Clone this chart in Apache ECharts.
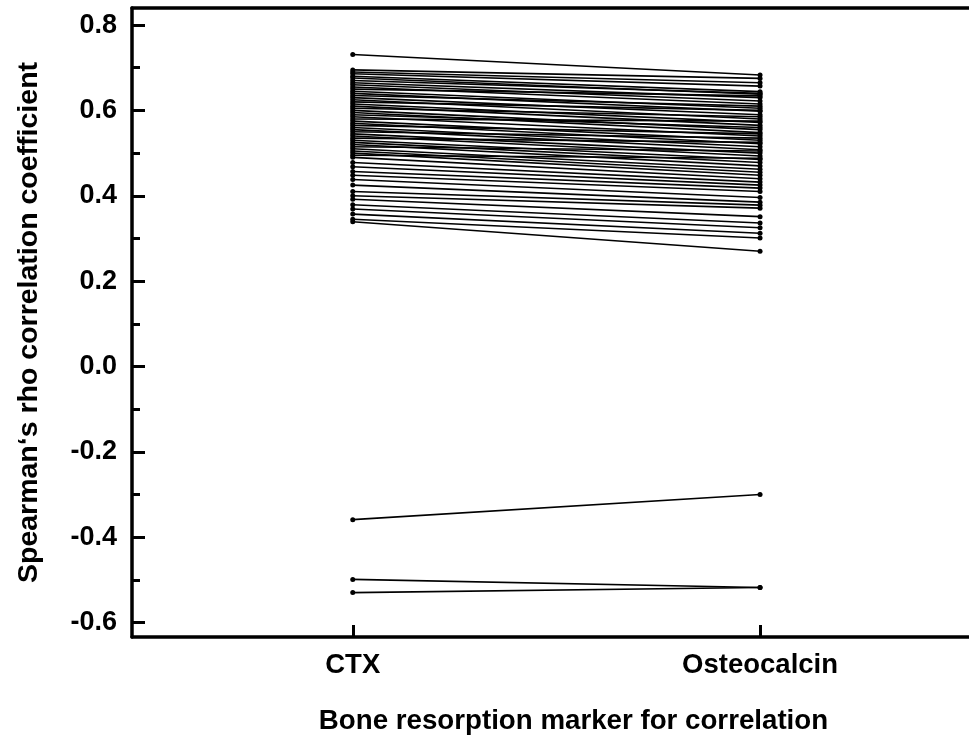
<!DOCTYPE html>
<html>
<head>
<meta charset="utf-8">
<script src="https://cdn.jsdelivr.net/npm/echarts@6/dist/echarts.min.js"></script>
<style>html,body{margin:0;padding:0;background:#fff;overflow:hidden}#c{width:969px;height:740px}</style>
</head>
<body>
<div id="c"></div>
<script>
var categories = ["CTX", "Osteocalcin"];
var ctxValues = [0.731,0.695,0.690,0.686,0.680,0.676,0.670,0.665,0.660,0.655,0.650,0.645,0.640,0.635,0.630,0.625,0.620,0.615,0.610,0.605,0.600,0.595,0.590,0.585,0.580,0.575,0.570,0.565,0.560,0.555,0.550,0.545,0.540,0.535,0.530,0.525,0.520,0.515,0.510,0.505,0.500,0.495,0.490,0.478,0.468,0.457,0.448,0.438,0.425,0.410,0.400,0.392,0.379,0.369,0.357,0.345,0.339,-0.359,-0.499,-0.530];
var osteoValues = [0.683,0.675,0.665,0.657,0.644,0.638,0.640,0.630,0.622,0.615,0.634,0.605,0.598,0.610,0.590,0.580,0.600,0.572,0.565,0.585,0.555,0.548,0.560,0.540,0.575,0.530,0.522,0.545,0.515,0.508,0.535,0.500,0.493,0.525,0.485,0.478,0.470,0.505,0.462,0.455,0.448,0.488,0.440,0.432,0.425,0.418,0.410,0.396,0.385,0.378,0.371,0.351,0.336,0.325,0.312,0.301,0.270,-0.300,-0.518,-0.518];
var majorTicks = [-0.6,-0.4,-0.2,0.0,0.2,0.4,0.6,0.8];
var minorTicks = [-0.5,-0.3,-0.1,0.1,0.3,0.5,0.7];
var xTicks = [1, 2];

var FONT = "'Liberation Sans', Arial, sans-serif";
var series = [];
for (var i = 0; i < ctxValues.length; i++) {
  series.push({
    type: 'line',
    data: [[1, ctxValues[i]], [2, osteoValues[i]]],
    symbol: 'circle',
    symbolSize: 5,
    silent: true,
    animation: false,
    lineStyle: {color: '#000', width: 1.6},
    itemStyle: {color: '#000'}
  });
}
var chart = echarts.init(document.getElementById('c'));
chart.setOption({
  animation: false,
  grid: {left: 132, right: 0, top: 8, bottom: 102, containLabel: false},
  xAxis: [{
    type: 'value', min: 0.458, max: 2.513,
    position: 'bottom',
    name: 'Bone resorption marker for correlation',
    nameLocation: 'middle', nameGap: 70,
    nameTextStyle: {fontFamily: FONT, fontWeight: 'bold', fontSize: 27.7, color: '#000', padding: [0, 0, 0, 46]},
    splitLine: {show: false},
    axisLine: {show: true, onZero: false, lineStyle: {color: '#000', width: 3.5}},
    axisTick: {show: true, inside: true, length: 12, lineStyle: {width: 3, color: '#000'}, customValues: xTicks},
    axisLabel: {show: true, margin: 14, fontFamily: FONT, fontWeight: 'bold', fontSize: 27.5, color: '#000',
      customValues: xTicks, formatter: function (v) { return categories[Math.round(v) - 1]; }}
  }, {
    type: 'value', min: 0.458, max: 2.513, position: 'top',
    splitLine: {show: false},
    axisLine: {show: true, onZero: false, lineStyle: {color: '#000', width: 3.5}},
    axisTick: {show: false}, axisLabel: {show: false}
  }],
  yAxis: [{
    type: 'value', min: -0.634, max: 0.84,
    position: 'left',
    name: 'Spearman\u2018s rho correlation coefficient',
    nameLocation: 'middle', nameGap: 88,
    nameTextStyle: {fontFamily: FONT, fontWeight: 'bold', fontSize: 28.5, color: '#000'},
    splitLine: {show: false},
    axisLine: {show: true, onZero: false, lineStyle: {color: '#000', width: 3.5}},
    axisTick: {show: true, inside: true, length: 13, lineStyle: {width: 3, color: '#000'}, customValues: majorTicks},
    axisLabel: {show: true, margin: 15, fontFamily: FONT, fontWeight: 'bold', fontSize: 27, color: '#000',
      customValues: majorTicks, formatter: function (v) { return v.toFixed(1); }}
  }, {
    type: 'value', min: -0.634, max: 0.84,
    position: 'left', offset: 0,
    splitLine: {show: false},
    axisLine: {show: false, onZero: false},
    axisTick: {show: true, inside: true, length: 8, lineStyle: {width: 3, color: '#000'}, customValues: minorTicks},
    axisLabel: {show: false}
  }],
  series: series
});
</script>
</body>
</html>
